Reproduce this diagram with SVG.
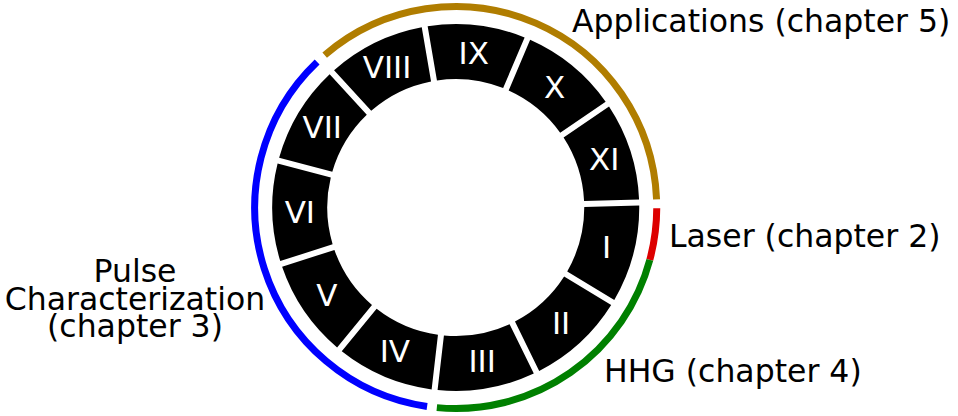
<svg xmlns="http://www.w3.org/2000/svg" xmlns:xlink="http://www.w3.org/1999/xlink" width="958" height="416" viewBox="0 0 958 416">
<style>
.seg{fill:#000}
.num{font-family:"DejaVu Sans",Verdana,sans-serif;font-size:31px;fill:#fff;text-anchor:middle}
.lbl{font-family:"DejaVu Sans",Verdana,sans-serif;font-size:31.5px;fill:#000}
.arc{fill:none;stroke-width:7}
</style>
<defs>
<path id="segshape" class="seg" d="M176.889,-48.813 A183.5,183.5 0 0 1 176.889,48.813 L124.107,33.315 A128.5,128.5 0 0 0 124.107,-33.315 Z"/>
</defs>
<rect width="958" height="416" fill="#fff"/>
<g id="connectors">
<path id="arc-applications" class="arc" stroke="#b07d00" d="M324.68,55.11 A201,201 0 0 1 656.58,199.29"/>
<path id="arc-laser" class="arc" stroke="#dd0000" d="M656.75,208.31 A201,201 0 0 1 649.81,259.86"/>
<path id="arc-hhg" class="arc" stroke="#008000" d="M649.81,259.86 A201,201 0 0 1 436.83,407.61"/>
<path id="arc-pulse" class="arc" stroke="#0000ff" d="M427.08,406.45 A201,201 0 0 1 317.13,61.94"/>
</g>
<g id="seg-I"><use xlink:href="#segshape" transform="translate(455.75 207.5) rotate(14.8)"/><text class="num" x="606.57" y="258.35">I</text></g>
<g id="seg-II"><use xlink:href="#segshape" transform="translate(455.75 207.5) rotate(47.527)"/><text class="num" x="561.09" y="333.57">II</text></g>
<g id="seg-III"><use xlink:href="#segshape" transform="translate(455.75 207.5) rotate(80.255)"/><text class="num" x="482.16" y="372.25">III</text></g>
<g id="seg-IV"><use xlink:href="#segshape" transform="translate(455.75 207.5) rotate(112.982)"/><text class="num" x="394.84" y="362.12">IV</text></g>
<g id="seg-V"><use xlink:href="#segshape" transform="translate(455.75 207.5) rotate(145.709)"/><text class="num" x="326.86" y="306.39">V</text></g>
<g id="seg-VI"><use xlink:href="#segshape" transform="translate(455.75 207.5) rotate(178.436)"/><text class="num" x="299.81" y="222.76">VI</text></g>
<g id="seg-VII"><use xlink:href="#segshape" transform="translate(455.75 207.5) rotate(211.164)"/><text class="num" x="322.26" y="137.77">VII</text></g>
<g id="seg-VIII"><use xlink:href="#segshape" transform="translate(455.75 207.5) rotate(243.891)"/><text class="num" x="387.10" y="78.42">VIII</text></g>
<g id="seg-IX"><use xlink:href="#segshape" transform="translate(455.75 207.5) rotate(276.618)"/><text class="num" x="473.73" y="63.54">IX</text></g>
<g id="seg-X"><use xlink:href="#segshape" transform="translate(455.75 207.5) rotate(309.345)"/><text class="num" x="554.65" y="97.86">X</text></g>
<g id="seg-XI"><use xlink:href="#segshape" transform="translate(455.75 207.5) rotate(342.073)"/><text class="num" x="604.18" y="170.48">XI</text></g>
<g id="label-applications"><text class="lbl" x="572" y="32">Applications (chapter 5)</text></g>
<g id="label-laser"><text class="lbl" x="669" y="247">Laser (chapter 2)</text></g>
<g id="label-hhg"><text class="lbl" x="604" y="382">HHG (chapter 4)</text></g>
<g id="label-pulse"><text class="lbl" text-anchor="middle"><tspan x="135" y="282">Pulse</tspan><tspan x="135" y="310">Characterization</tspan><tspan x="135" y="337">(chapter 3)</tspan></text></g>
</svg>
